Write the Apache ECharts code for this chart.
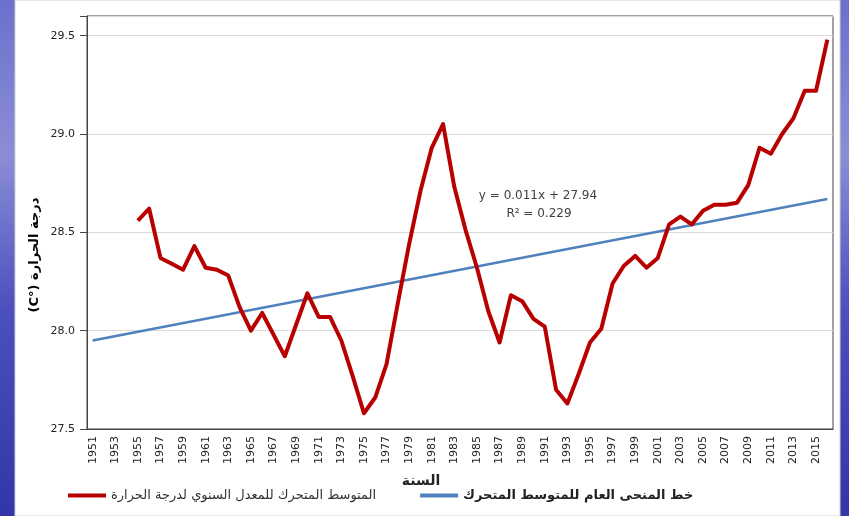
<!DOCTYPE html>
<html>
<head>
<meta charset="utf-8">
<script src="https://cdn.jsdelivr.net/npm/echarts@6/dist/echarts.min.js"></script>
<style>
  html, body { margin: 0; padding: 0; }
  #chart { width: 849px; height: 516px; }
</style>
</head>
<body>
<div id="chart"></div>
<script>
// years on the category axis
const years = [
  '1951','1952','1953','1954','1955','1956','1957','1958','1959','1960',
  '1961','1962','1963','1964','1965','1966','1967','1968','1969','1970',
  '1971','1972','1973','1974','1975','1976','1977','1978','1979','1980',
  '1981','1982','1983','1984','1985','1986','1987','1988','1989','1990',
  '1991','1992','1993','1994','1995','1996','1997','1998','1999','2000',
  '2001','2002','2003','2004','2005','2006','2007','2008','2009','2010',
  '2011','2012','2013','2014','2015','2016'
]

// moving average of the annual temperature (starts in 1955)
const movingAvg = [
  null, null, null, null, 28.56, 28.62, 28.37, 28.34, 28.31, 28.43,
  28.32, 28.31, 28.28, 28.12, 28.00, 28.09, 27.98, 27.87, 28.03, 28.19,
  28.07, 28.07, 27.95, 27.77, 27.58, 27.66, 27.83, 28.14, 28.44, 28.71,
  28.93, 29.05, 28.73, 28.51, 28.32, 28.10, 27.94, 28.18, 28.15, 28.06,
  28.02, 27.70, 27.63, 27.78, 27.94, 28.01, 28.24, 28.33, 28.38, 28.32,
  28.37, 28.54, 28.58, 28.54, 28.61, 28.64, 28.64, 28.65, 28.74, 28.93,
  28.90, 29.00, 29.08, 29.22, 29.22, 29.48
]

// end points of the linear trend line
const trendYears = ['1951', '2016']
const trendValues = [27.95, 28.67]

const redName = 'المتوسط المتحرك للمعدل السنوي لدرجة الحرارة'
const blueName = 'خط المنحى العام للمتوسط المتحرك'
const font = 'DejaVu Sans'

const chart = echarts.init(document.getElementById('chart'))

chart.setOption({
  animation: false,
  backgroundColor: {
    type: 'linear', x: 0, y: 0, x2: 0, y2: 1,
    colorStops: [
      { offset: 0, color: '#6c70cc' },
      { offset: 0.3, color: '#8a8ed6' },
      { offset: 0.6, color: '#4c4fbe' },
      { offset: 1, color: '#3236a8' }
    ]
  },
  graphic: [
    {
      type: 'rect', z: -10, silent: true,
      shape: { x: 15, y: 0, width: 825, height: 516 },
      style: { fill: '#ffffff', stroke: '#d0d0d0', lineWidth: 1 }
    },
    {
      // y axis title, written so that (C°) ends up at the bottom once rotated
      type: 'text', z: 10,
      x: 35, y: 255, rotation: Math.PI / 2,
      style: {
        text: '(C°) درجة الحرارة', font: 'bold 13px "DejaVu Sans"',
        fill: '#000', align: 'center', verticalAlign: 'middle'
      }
    },
    {
      type: 'text', z: 10, x: 421, y: 481,
      style: {
        text: 'السنة', font: 'bold 14px "DejaVu Sans"',
        fill: '#222', align: 'center', verticalAlign: 'middle'
      }
    },
    {
      type: 'text', z: 10, x: 538, y: 196,
      style: {
        text: 'y = 0.011x + 27.94', font: '12px "DejaVu Sans"',
        fill: '#404040', align: 'center', verticalAlign: 'middle'
      }
    },
    {
      type: 'text', z: 10, x: 539, y: 214,
      style: {
        text: 'R² = 0.229', font: '12px "DejaVu Sans"',
        fill: '#404040', align: 'center', verticalAlign: 'middle'
      }
    }
  ],
  grid: {
    left: 87, right: 16, top: 16, bottom: 87,
    show: true, borderColor: '#444', borderWidth: 1
  },
  legend: {
    left: 63, top: 484,
    itemWidth: 38, itemHeight: 4, itemGap: 44,
    icon: 'rect',
    data: [
      { name: redName, textStyle: { fontSize: 13, color: '#333', fontFamily: font } },
      { name: blueName, textStyle: { fontSize: 13, fontWeight: 'bold', color: '#222', fontFamily: font } }
    ]
  },
  xAxis: {
    type: 'category',
    data: years,
    boundaryGap: true,
    axisLine: { lineStyle: { color: '#444' } },
    axisTick: { interval: 0, length: 6, lineStyle: { color: '#444' } },
    axisLabel: {
      interval: 1, rotate: 90, fontSize: 11, color: '#222',
      fontFamily: font, margin: 7
    },
    splitLine: { show: false }
  },
  yAxis: {
    type: 'value',
    min: 27.5, max: 29.6, interval: 0.5,
    axisLine: { show: true, lineStyle: { color: '#444' } },
    axisTick: { show: true, length: 7, lineStyle: { color: '#444' } },
    axisLabel: {
      fontSize: 11, color: '#222', fontFamily: font, margin: 12,
      formatter: v => Math.abs(v * 2 - Math.round(v * 2)) < 1e-6 ? v.toFixed(1) : ''
    },
    splitLine: { lineStyle: { color: '#d9d9d9' } }
  },
  series: [
    {
      name: redName,
      type: 'line',
      data: movingAvg,
      showSymbol: false,
      connectNulls: false,
      itemStyle: { color: '#b80000' },
      lineStyle: { color: '#b80000', width: 4, join: 'round' },
      z: 3
    },
    {
      name: blueName,
      type: 'line',
      data: trendYears.map((y, i) => [y, trendValues[i]]),
      showSymbol: false,
      itemStyle: { color: '#4f81bd' },
      lineStyle: { color: '#4f81bd', width: 2.5 },
      z: 2
    }
  ]
})
</script>
</body>
</html>
